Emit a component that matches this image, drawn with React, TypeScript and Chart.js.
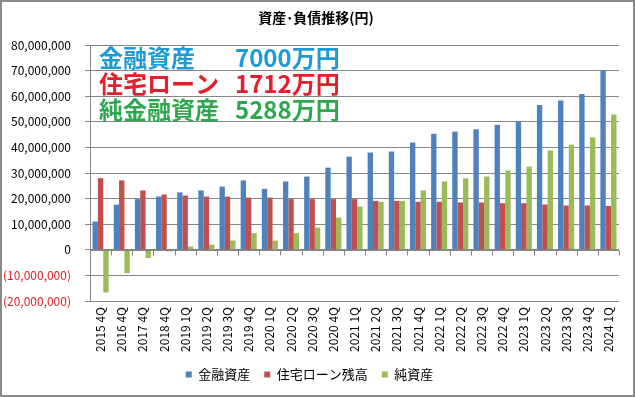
import React, { useEffect, useRef } from "react";
import { Chart, registerables } from "chart.js";

Chart.register(...registerables);

const categories = [
  "2015 4Q", "2016 4Q", "2017 4Q", "2018 4Q", "2019 1Q", "2019 2Q", "2019 3Q", "2019 4Q",
  "2020 1Q", "2020 2Q", "2020 3Q", "2020 4Q", "2021 1Q", "2021 2Q", "2021 3Q", "2021 4Q",
  "2022 1Q", "2022 2Q", "2022 3Q", "2022 4Q", "2023 1Q", "2023 2Q", "2023 3Q", "2023 4Q", "2024 1Q",
];

const financialAssets = [
  11000000, 17600000, 19800000, 20800000, 22400000, 23200000, 24700000, 27100000,
  23800000, 26700000, 28600000, 32100000, 36400000, 38000000, 38400000, 41900000,
  45300000, 46200000, 47100000, 48800000, 50100000, 56600000, 58300000, 60900000, 70000000,
];

const mortgageBalance = [
  28000000, 27100000, 23200000, 21600000, 21200000, 20800000, 20800000, 20400000,
  20400000, 19800000, 19800000, 19800000, 19800000, 19100000, 19100000, 18750000,
  18750000, 18500000, 18500000, 18200000, 18200000, 17700000, 17300000, 17300000, 17120000,
];

const netAssets = [
  -16700000, -9100000, -3200000, -600000, 1300000, 2000000, 3600000, 6500000,
  3600000, 6500000, 8700000, 12600000, 16900000, 18750000, 19100000, 23200000,
  26700000, 27900000, 28600000, 31000000, 32500000, 38800000, 41100000, 43900000, 52880000,
];

const seriesNames = ["金融資産", "住宅ローン残高", "純資産"];
const seriesColors = ["#4F81BD", "#C0504D", "#9BBB59"];

const titleText = "資産･負債推移(円)";
const summaryLines = [
  { label: "金融資産", value: "7000万円", color: "#1E9AD6" },
  { label: "住宅ローン", value: "1712万円", color: "#E0202A" },
  { label: "純金融資産", value: "5288万円", color: "#2EA84E" },
];

const JP = '"Noto Sans CJK JP", "Noto Sans", sans-serif';

const decorPlugin = {
  id: "decor",
  beforeDraw(chart: any) {
    const { ctx, width, height } = chart;
    ctx.save();
    ctx.fillStyle = "#ffffff";
    ctx.fillRect(0, 0, width, height);
    ctx.restore();
  },
  afterDatasetsDraw(chart: any) {
    const { ctx } = chart;
    const x = chart.scales.x;
    const y = chart.scales.y;
    const y0 = Math.round(y.getPixelForValue(0)) + 0.5;
    const n = categories.length;
    ctx.save();
    ctx.strokeStyle = "#868686";
    ctx.lineWidth = 1;
    ctx.beginPath();
    ctx.moveTo(x.left, y0);
    ctx.lineTo(x.right, y0);
    for (let i = 0; i <= n; i++) {
      const px = Math.round(x.left + (i * (x.right - x.left)) / n) + 0.5;
      ctx.moveTo(px, y0);
      ctx.lineTo(px, y0 + 5);
    }
    ctx.stroke();
    ctx.restore();
  },
  afterDraw(chart: any) {
    const { ctx, width, height } = chart;
    ctx.save();
    // title
    ctx.fillStyle = "#000";
    ctx.font = `bold 14px ${JP}`;
    ctx.textAlign = "center";
    ctx.textBaseline = "middle";
    ctx.fillText(titleText, 316, 18);
    // summary overlay
    ctx.font = `bold 24px ${JP}`;
    ctx.textAlign = "left";
    summaryLines.forEach((l, i) => {
      const cy = 58 + i * 26;
      ctx.fillStyle = l.color;
      ctx.fillText(l.label, 99, cy);
      ctx.fillText(l.value, 235, cy);
    });
    // outer border
    ctx.strokeStyle = "#8a8a8a";
    ctx.lineWidth = 2;
    ctx.strokeRect(1, 1, width - 2, height - 2);
    ctx.restore();
  },
};

export default function App() {
  const ref = useRef<HTMLCanvasElement | null>(null);

  useEffect(() => {
    if (!ref.current) return;
    const chart = new Chart(ref.current, {
      type: "bar",
      data: {
        labels: categories,
        datasets: [
          { label: seriesNames[0], data: financialAssets, backgroundColor: seriesColors[0] },
          { label: seriesNames[1], data: mortgageBalance, backgroundColor: seriesColors[1] },
          { label: seriesNames[2], data: netAssets, backgroundColor: seriesColors[2] },
        ],
      },
      options: {
        animation: false,
        responsive: false,
        maintainAspectRatio: false,
        datasets: { bar: { categoryPercentage: 0.76, barPercentage: 1 } },
        layout: { padding: { left: 0, right: 16, top: 45, bottom: 6 } },
        plugins: {
          title: { display: false },
          tooltip: { enabled: false },
          legend: {
            display: true,
            position: "bottom",
            labels: {
              boxWidth: 6,
              boxHeight: 6,
              padding: 14,
              color: "#000",
              font: { family: JP, size: 13 },
            },
          },
        },
        scales: {
          x: {
            offset: true,
            grid: { display: false, drawTicks: false },
            border: { display: false },
            ticks: {
              minRotation: 90,
              maxRotation: 90,
              autoSkip: false,
              padding: 6,
              color: "#000",
              font: { family: JP, size: 12 },
            },
            afterFit(s: any) {
              s.height = 53;
            },
          },
          y: {
            min: -20000000,
            max: 80000000,
            ticks: {
              stepSize: 10000000,
              padding: 14,
              font: { family: JP, size: 12 },
              color: (c: any) => (c.tick && c.tick.value < 0 ? "#E0202A" : "#000"),
              callback: (v: any) => {
                const n = Number(v);
                const s = Math.abs(n).toLocaleString("en-US");
                return n < 0 ? `(${s})` : s;
              },
            },
            grid: { color: "#868686", tickLength: 5, tickColor: "#868686" },
            border: { display: true, color: "#868686" },
            afterFit(s: any) {
              s.width = 90;
            },
          },
        },
      },
      plugins: [decorPlugin],
    });
    return () => chart.destroy();
  }, []);

  return (
    <div style={{ position: "fixed", left: 0, top: 0, width: 635, height: 397 }}>
      <canvas ref={ref} width={635} height={397} style={{ display: "block" }} />
    </div>
  );
}
